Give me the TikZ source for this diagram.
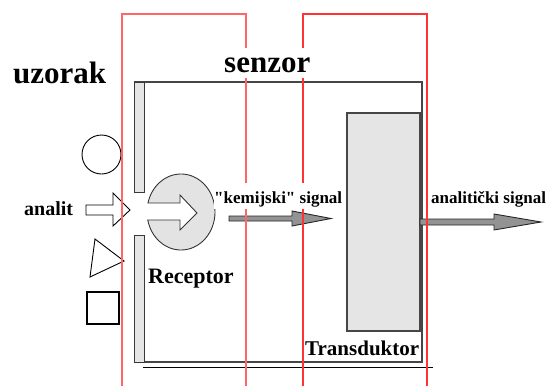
\documentclass[tikz,border=0pt]{standalone}
\usepackage{fontspec}
\setmainfont{Liberation Serif}
\setmonofont{Liberation Serif}
\newcommand\strq{{\ttfamily\symbol{34}}}
\begin{document}
\begin{tikzpicture}[x=1pt,y=-1pt,
  lbl/.style={inner sep=0pt,anchor=base west,font=\bfseries},
  wall/.style={fill=gray!20,draw=gray!45!black,line width=0.9pt},
  boxline/.style={draw=gray!55!black,line width=2pt},
  redline/.style={line width=1.3pt},
  outlined/.style={draw=black,line width=0.9pt},
  grayarrow/.style={fill=gray!85,draw=gray!30!black,line width=0.9pt,line join=miter}]
\useasboundingbox (0,0) rectangle (552,386);

% sensor box and receptor walls
\coordinate (b1) at (134,82);
\coordinate (b2) at (422,82);
\coordinate (b3) at (422,362);
\coordinate (b4) at (134,362);
\draw[boxline] (b1) -- (b2) -- (b3) -- (b4);
\draw[wall] (134,82) rectangle (144,192);
\draw[wall] (134,235) rectangle (144,362);
\coordinate (g1) at (143,367);
\coordinate (g2) at (433,367);
\draw[black,line width=0.9pt] (g1) -- (g2);

% transducer
\node[draw=gray!55!black,fill=gray!20,line width=1.8pt,minimum width=73pt,minimum height=218pt,inner sep=0pt] (trans) at (383.5,222) {};

% sample shapes
\node[outlined,circle,minimum size=39pt,inner sep=0pt] (circ) at (101.5,154.5) {};
\draw[outlined,line join=miter] (95,239) coordinate (t1) -- (124,261) coordinate (t2) -- (90,277) coordinate (t3) -- cycle;
\node[outlined,line width=1.2pt,minimum size=32pt,inner sep=0pt] (sq) at (103,308) {};

% analit arrow (outline)
\draw[outlined,fill=white,line join=miter] (86,205) -- (113,205) -- (113,193) -- (130,210) -- (113,226) -- (113,215) -- (86,215) -- cycle;

% receptor (disc with arrow-shaped notch)
\draw[fill=gray!22,draw=gray!40!black,line width=0.9pt,line join=miter]
  plot[domain=193.7:527.8,samples=90] ({181+34*cos(\x)},{212+38*sin(\x)})
  -- (180,220) -- (180,230) -- (197,213) -- (180,195) -- (180,203) -- cycle;
\coordinate (rec) at (181,212);

% signal arrows
\draw[grayarrow] (229,216) -- (292,216) -- (292,211) -- (331,218.5) -- (292,226) -- (292,221) -- (229,221) -- cycle;
\draw[grayarrow] (420,219) -- (494,219) -- (494,214) -- (541,222) -- (494,230) -- (494,225) -- (420,225) -- cycle;

% red brackets
\draw[redline,red!60] (122,386) -- (122,14) -- (246,14) -- (246,386);
\draw[redline,red!80] (303,386) -- (303,14) -- (427,14) -- (427,386);

% labels
\node[lbl,font=\bfseries\fontsize{31}{31}\selectfont] (uz) at (13,83) {uzorak};
\node[lbl,font=\bfseries\fontsize{31}{31}\selectfont,fill=white,text height=24pt,text depth=6pt] (sen) at (224,72) {senzor};
\node[lbl,font=\bfseries\fontsize{20}{20}\selectfont] (an) at (24,215) {analit};
\node[lbl,font=\bfseries\fontsize{22}{22}\selectfont] (recl) at (148,283) {Receptor};
\node[lbl,font=\bfseries\fontsize{21}{21}\selectfont] (trl) at (305,355) {Transduktor};
\node[lbl,font=\bfseries\fontsize{17}{17}\selectfont,fill=white,text height=20pt,text depth=6pt] (kem) at (214,203) {\strq kemijski\strq{} signal};
\node[lbl,font=\bfseries\fontsize{17}{17}\selectfont] (ana) at (431,203) {analitički signal};
\end{tikzpicture}
\end{document}
